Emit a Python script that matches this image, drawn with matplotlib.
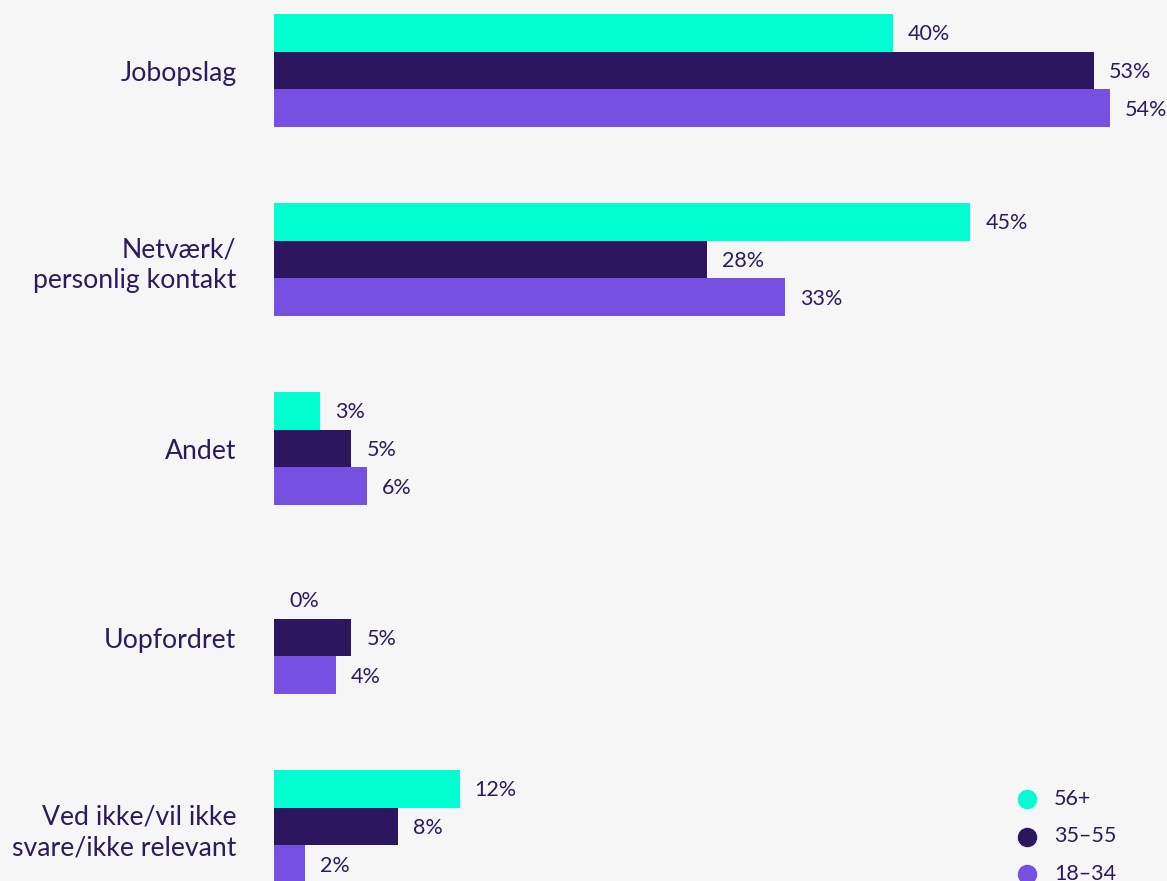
import numpy as np
import matplotlib
matplotlib.use("Agg")
import matplotlib.pyplot as plt
from matplotlib.lines import Line2D

# Data
categories = ["Jobopslag", "Netværk/\npersonlig kontakt", "Andet", "Uopfordret",
              "Ved ikke/vil ikke\nsvare/ikke relevant"]
groups = ["56+", "35-55", "18-34"]
age_56 = [40, 45, 3, 0, 12]
age_35_55 = [53, 28, 5, 5, 8]
age_18_34 = [54, 33, 6, 4, 2]

colors = ["#00ffd0", "#2d1660", "#7650e0"]
text_color = "#2d1a5e"
bg = "#f6f6f6"

plt.rcParams['font.family'] = ['Lato', 'DejaVu Sans']

fig = plt.figure(figsize=(11.67, 8.81), dpi=100, facecolor=bg)
ax = fig.add_axes([274 / 1167, 0, 1 - 274 / 1167, 1])
ax.set_facecolor(bg)

y = np.arange(len(categories))
h = 0.2
series = [age_56, age_35_55, age_18_34]
for i, (vals, c) in enumerate(zip(series, colors)):
    pos = y + (i - 1) * h
    ax.barh(pos, vals, height=h, color=c, linewidth=0)
    for p, v in zip(pos, vals):
        ax.annotate(f"{v}%", (v, p), xytext=(10.8, -1), textcoords="offset points",
                    va="center", ha="left", fontsize=15.5, color=text_color)

ax.set_xlim(0, 57.7)
ax.set_ylim(4.288, -0.373)
ax.set_yticks(y)
ax.set_yticklabels(categories, fontsize=19.2, color=text_color, linespacing=1.3)
ax.tick_params(axis="y", length=0, pad=27)
ax.set_xticks([])
for s in ax.spines.values():
    s.set_visible(False)

# Legend drawn by hand in the lower right corner
for k, (g, c) in enumerate(zip(groups, colors)):
    yy = 1 - (799 + k * 37.5) / 881
    fig.add_artist(Line2D([1027 / 1167], [yy], marker="o", markersize=13,
                          color=c, linestyle="none", transform=fig.transFigure))
    fig.text(1054 / 1167, yy, g.replace("-", "–"), fontsize=15.5, color=text_color,
             va="center", ha="left")

fig.savefig("out.png", dpi=100, facecolor=bg)
